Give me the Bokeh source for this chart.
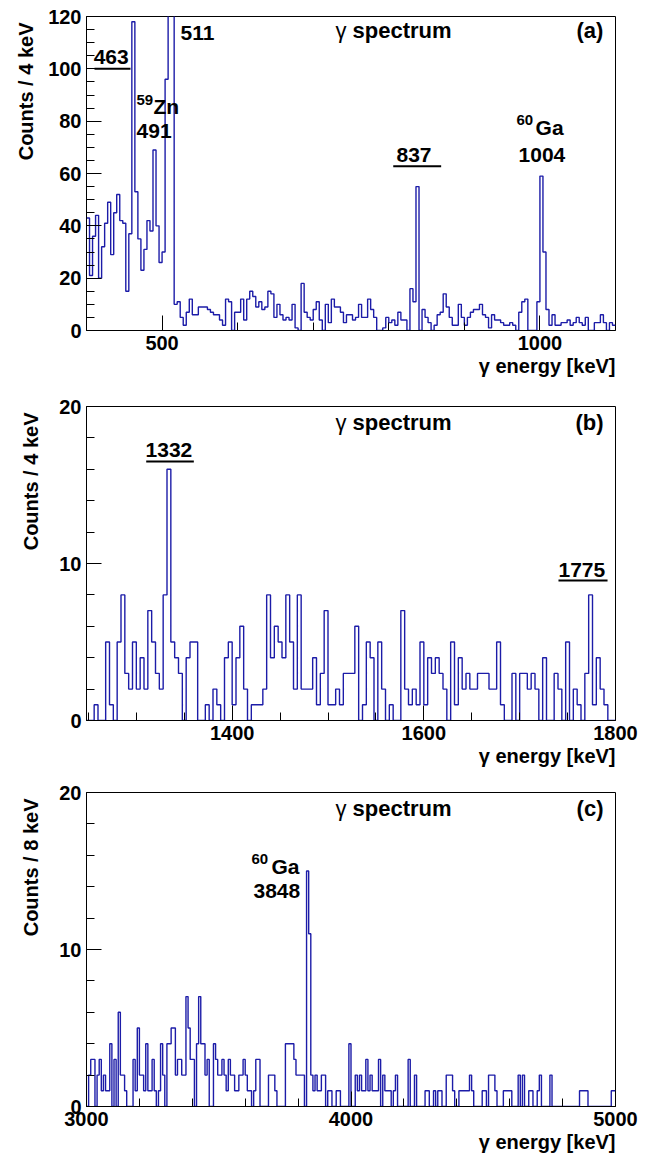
import numpy as np
from bokeh.plotting import figure
from bokeh.models import Range1d, FixedTicker, Title, Label
from bokeh.layouts import column
from bokeh.embed import file_html
from bokeh.resources import INLINE

FONT = "Liberation Sans"
LINE = "#1c1ca8"

# ---------------- data ----------------
# panel (a): 400-1100 keV, 4 keV bins
a_start, a_bin = 400, 4
a_counts = [43, 21, 36, 44, 20, 32, 41, 49, 29, 45, 52, 42, 41, 15, 37, 118, 53, 35, 23, 31,
            42, 38, 69, 40, 26, 30, 96, 250, 160,
            10, 11, 5, 2, 7, 12, 6, 6, 9, 9, 9, 8, 7, 6, 6, 4, 2, 12, 11, 0,
            7, 7, 12, 4, 12, 15, 13, 9, 11, 8, 9, 15, 14, 5, 10, 6, 4, 5, 4, 10, 1, 0,
            18, 7, 5, 4, 8, 11, 4, 0, 10, 3,
            12, 9, 9, 7, 3, 6, 6, 4, 5, 10,
            5, 5, 12, 8, 5, 0, 0, 1, 5, 3,
            4, 2, 7, 4, 4, 0, 16, 11, 55, 0,
            8, 5, 3, 0, 2, 6, 7, 14, 9, 5,
            2, 2, 10, 5, 2, 5, 7, 8, 8, 10,
            6, 5, 1, 6, 4, 4, 3, 2, 2, 3,
            2, 0, 7, 11, 12, 0, 0, 0, 11, 59,
            30, 8, 2, 6, 2, 2, 3, 3, 4, 2,
            3, 5, 3, 2, 5, 0, 0, 3, 3, 6,
            3, 0, 3, 2]
a_xticks = [500, 1000]
a_xminor = [600, 700, 800, 900]
a_yticks = [0, 20, 40, 60, 80, 100, 120]
a_yminor = [5, 10, 15, 25, 30, 35, 45, 50, 55, 65, 70, 75, 85, 90, 95, 105, 110, 115]

# panel (b): 1248-1800 keV, 4 keV bins
b_start, b_bin = 1248, 4
b_counts = [0, 0, 1, 0, 0, 5, 1, 0, 5, 8,
            3, 2, 5, 2, 4, 2, 7, 5, 3, 2,
            8, 16, 5, 4, 3, 0, 4, 5, 5, 0,
            0, 1, 0, 2, 1, 0, 4, 5, 1, 4,
            6, 2, 0, 1, 1, 1, 2, 8, 4, 6,
            5, 4, 8, 5, 2, 8, 2, 2, 2, 4,
            1, 3, 7, 1, 1, 2, 1, 3,
            3, 3, 6, 0, 1, 5, 4, 0, 5, 2,
            0, 1, 0, 0, 7, 2, 1, 2, 1, 5,
            1, 4, 3, 4, 3, 2, 0, 5, 1, 4,
            2, 3, 2, 2, 3, 3, 3, 2, 2, 5,
            1, 0, 0, 3, 0, 3, 3, 2, 3, 2,
            0, 4, 0, 0, 3, 2, 0, 5, 0, 2,
            1, 0, 3, 8, 1, 4, 2, 1, 0, 0]
b_xticks = [1400, 1600, 1800]
b_xminor = [1250, 1300, 1350, 1450, 1500, 1550, 1650, 1700, 1750]
b_yticks = [0, 10, 20]
b_yminor = [2, 4, 6, 8, 12, 14, 16, 18]

# panel (c): 3000-5000 keV, 8 keV bins
c_start, c_bin = 3000, 8
c_counts = [0, 2, 3, 3, 0, 2, 3, 1, 2, 1,
            1, 4, 0, 3, 0, 6, 2, 2, 1, 0,
            0, 0, 3, 1, 5, 2, 2, 1, 4, 1,
            1, 3, 1, 0, 1, 4, 2, 0, 4, 4,
            5, 5, 2, 3, 3, 2, 2, 7, 5, 3,
            3, 0, 4, 7, 4, 4, 2, 3, 0, 0,
            4, 3, 2, 2, 3, 2, 1, 3, 2, 2,
            1, 1, 2, 2, 3, 2, 1, 1, 0, 1,
            3, 3, 0, 0, 0, 0, 2, 2, 2, 1,
            0, 0, 0, 0, 4, 4, 4, 4, 3, 2,
            2, 2, 2, 0, 15, 11, 2, 1, 2, 1,
            1, 2, 2, 0, 1, 1, 0, 0, 1, 1,
            0, 0, 0, 0,
            4, 0, 0, 2, 1, 2, 1, 1, 3, 1,
            2, 1, 1, 1, 3, 0, 2, 1, 1, 1,
            0, 1, 2, 0, 0, 0, 0, 0, 3, 0,
            0, 2, 0, 0, 0, 0, 1, 1, 0, 0,
            1, 0, 1, 1, 0, 0, 2, 2, 2, 1,
            0, 0, 1, 1, 1, 1, 1, 2, 1, 0,
            0, 0, 0, 1, 1, 0, 2, 2, 2, 1,
            0, 0, 0, 1, 1, 1, 1, 0, 0, 0,
            2, 0, 2, 0, 0, 1, 1, 0, 0, 1,
            2, 0, 0, 0, 0, 2, 0, 0, 0, 0,
            0, 0, 0, 0, 0, 0, 0, 0, 0, 1,
            1, 1, 1, 0, 0, 0, 0, 0, 0, 0,
            0, 0, 0, 0, 1, 1]
c_xticks = [3000, 4000, 5000]
c_xminor = [3200, 3400, 3600, 3800, 4200, 4400, 4600, 4800]
c_yticks = [0, 10, 20]
c_yminor = [2, 4, 6, 8, 12, 14, 16, 18]

# annotations: (text, x, baseline y, align, size px, style)
a_texts = [("γ", 729.5, 111.6, "left", 22, "normal"),
           ("spectrum", 752, 111.6, "left", 22, "bold"),
           ("(a)", 1084, 111.6, "right", 22, "bold"),
           ("463", 409.5, 101.7, "left", 21, "bold"),
           ("511", 524.4, 110.8, "left", 21, "bold"),
           ("59", 466.2, 86.2, "left", 15, "bold"),
           ("Zn", 488.7, 82.8, "left", 21, "bold"),
           ("491", 466.2, 73.4, "left", 21, "bold"),
           ("837", 810.2, 64.2, "left", 21, "bold"),
           ("60", 969.0, 78.3, "left", 15, "bold"),
           ("Ga", 994.2, 74.9, "left", 21, "bold"),
           ("1004", 971.7, 64.2, "left", 21, "bold")]
a_lines = [(410.6, 458.2, 100.0), (805.9, 869.3, 62.8)]

b_texts = [("γ", 1507.8, 18.47, "left", 22, "normal"),
           ("spectrum", 1525.6, 18.47, "left", 22, "bold"),
           ("(b)", 1787.5, 18.47, "right", 22, "bold"),
           ("1332", 1309.6, 16.75, "left", 21, "bold"),
           ("1775", 1740.5, 9.11, "left", 21, "bold")]
b_lines = [(1310.3, 1360.0, 16.5), (1740.5, 1791.7, 8.92)]

c_texts = [("γ", 3941.4, 18.47, "left", 22, "normal"),
           ("spectrum", 4005.7, 18.47, "left", 22, "bold"),
           ("(c)", 4954.6, 18.47, "right", 22, "bold"),
           ("60", 3623.8, 15.41, "left", 15, "bold"),
           ("Ga", 3699.4, 14.84, "left", 21, "bold"),
           ("3848", 3631.4, 13.25, "left", 21, "bold")]
c_lines = []

FRAME_H = 314


def make_panel(start, binw, counts, xr, yr, xt, xm, yt, ym, ylabel, texts, lines,
               height, top, bottom, ystandoff):
    p = figure(width=643, height=height, x_range=Range1d(*xr), y_range=Range1d(*yr),
               output_backend="svg", toolbar_location=None,
               min_border_left=86, min_border_right=28, min_border_top=top,
               min_border_bottom=bottom)
    p.xgrid.visible = False
    p.ygrid.visible = False
    p.outline_line_color = "black"
    p.outline_line_width = 1
    p.background_fill_color = "white"
    p.border_fill_color = "white"
    for ax in (p.xaxis[0], p.yaxis[0]):
        ax.major_tick_in = 15
        ax.major_tick_out = 0
        ax.minor_tick_in = 8
        ax.minor_tick_out = 0
        ax.major_tick_line_color = "black"
        ax.minor_tick_line_color = "black"
        ax.axis_line_color = "black"
        ax.major_label_text_font = FONT
        ax.major_label_text_font_size = "20px"
        ax.major_label_text_font_style = "bold"
        ax.major_label_text_color = "black"
    p.xaxis[0].major_label_standoff = 5
    p.yaxis[0].major_label_standoff = 5
    p.xaxis[0].ticker = FixedTicker(ticks=xt, minor_ticks=xm)
    p.yaxis[0].ticker = FixedTicker(ticks=yt, minor_ticks=ym)

    n = len(counts)
    edges = start + binw * np.arange(n + 1)
    yy = list(counts) + [counts[-1]]
    p.step(edges, yy, mode="after", line_color=LINE, line_width=1.4)

    px_per_unit = FRAME_H / (yr[1] - yr[0])
    for (t, x, y, al, sz, st) in texts:
        yc = y + 0.35 * sz / px_per_unit   # baseline -> middle of the text box
        p.add_layout(Label(x=x, y=yc, text=t, text_font=FONT, text_font_size=f"{sz}px",
                           text_font_style=st, text_align=al, text_baseline="middle",
                           text_color="black"))
    if lines:
        p.segment(x0=[l[0] for l in lines], x1=[l[1] for l in lines],
                  y0=[l[2] for l in lines], y1=[l[2] for l in lines],
                  line_color="black", line_width=2)

    p.add_layout(Title(text="γ energy [keV]", align="right", text_font=FONT,
                       text_font_size="20px", text_font_style="bold", text_color="black",
                       standoff=0), "below")
    p.add_layout(Title(text=ylabel, align="right", text_font=FONT,
                       text_font_size="20px", text_font_style="bold", text_color="black",
                       standoff=ystandoff, offset=6), "left")
    return p


pa = make_panel(a_start, a_bin, a_counts, (400, 1100), (0, 120), a_xticks, a_xminor,
                a_yticks, a_yminor, "Counts / 4 keV", a_texts, a_lines, 390, 16, 60, 17)
pb = make_panel(b_start, b_bin, b_counts, (1248, 1800), (0, 20), b_xticks, b_xminor,
                b_yticks, b_yminor, "Counts / 4 keV", b_texts, b_lines, 390, 16, 60, 29)
pc = make_panel(c_start, c_bin, c_counts, (3000, 5000), (0, 20), c_xticks, c_xminor,
                c_yticks, c_yminor, "Counts / 8 keV", c_texts, c_lines, 375, 12, 49, 29)

layout = column(pa, pb, pc, spacing=0)
open("out.html", "w").write(file_html(layout, INLINE))
